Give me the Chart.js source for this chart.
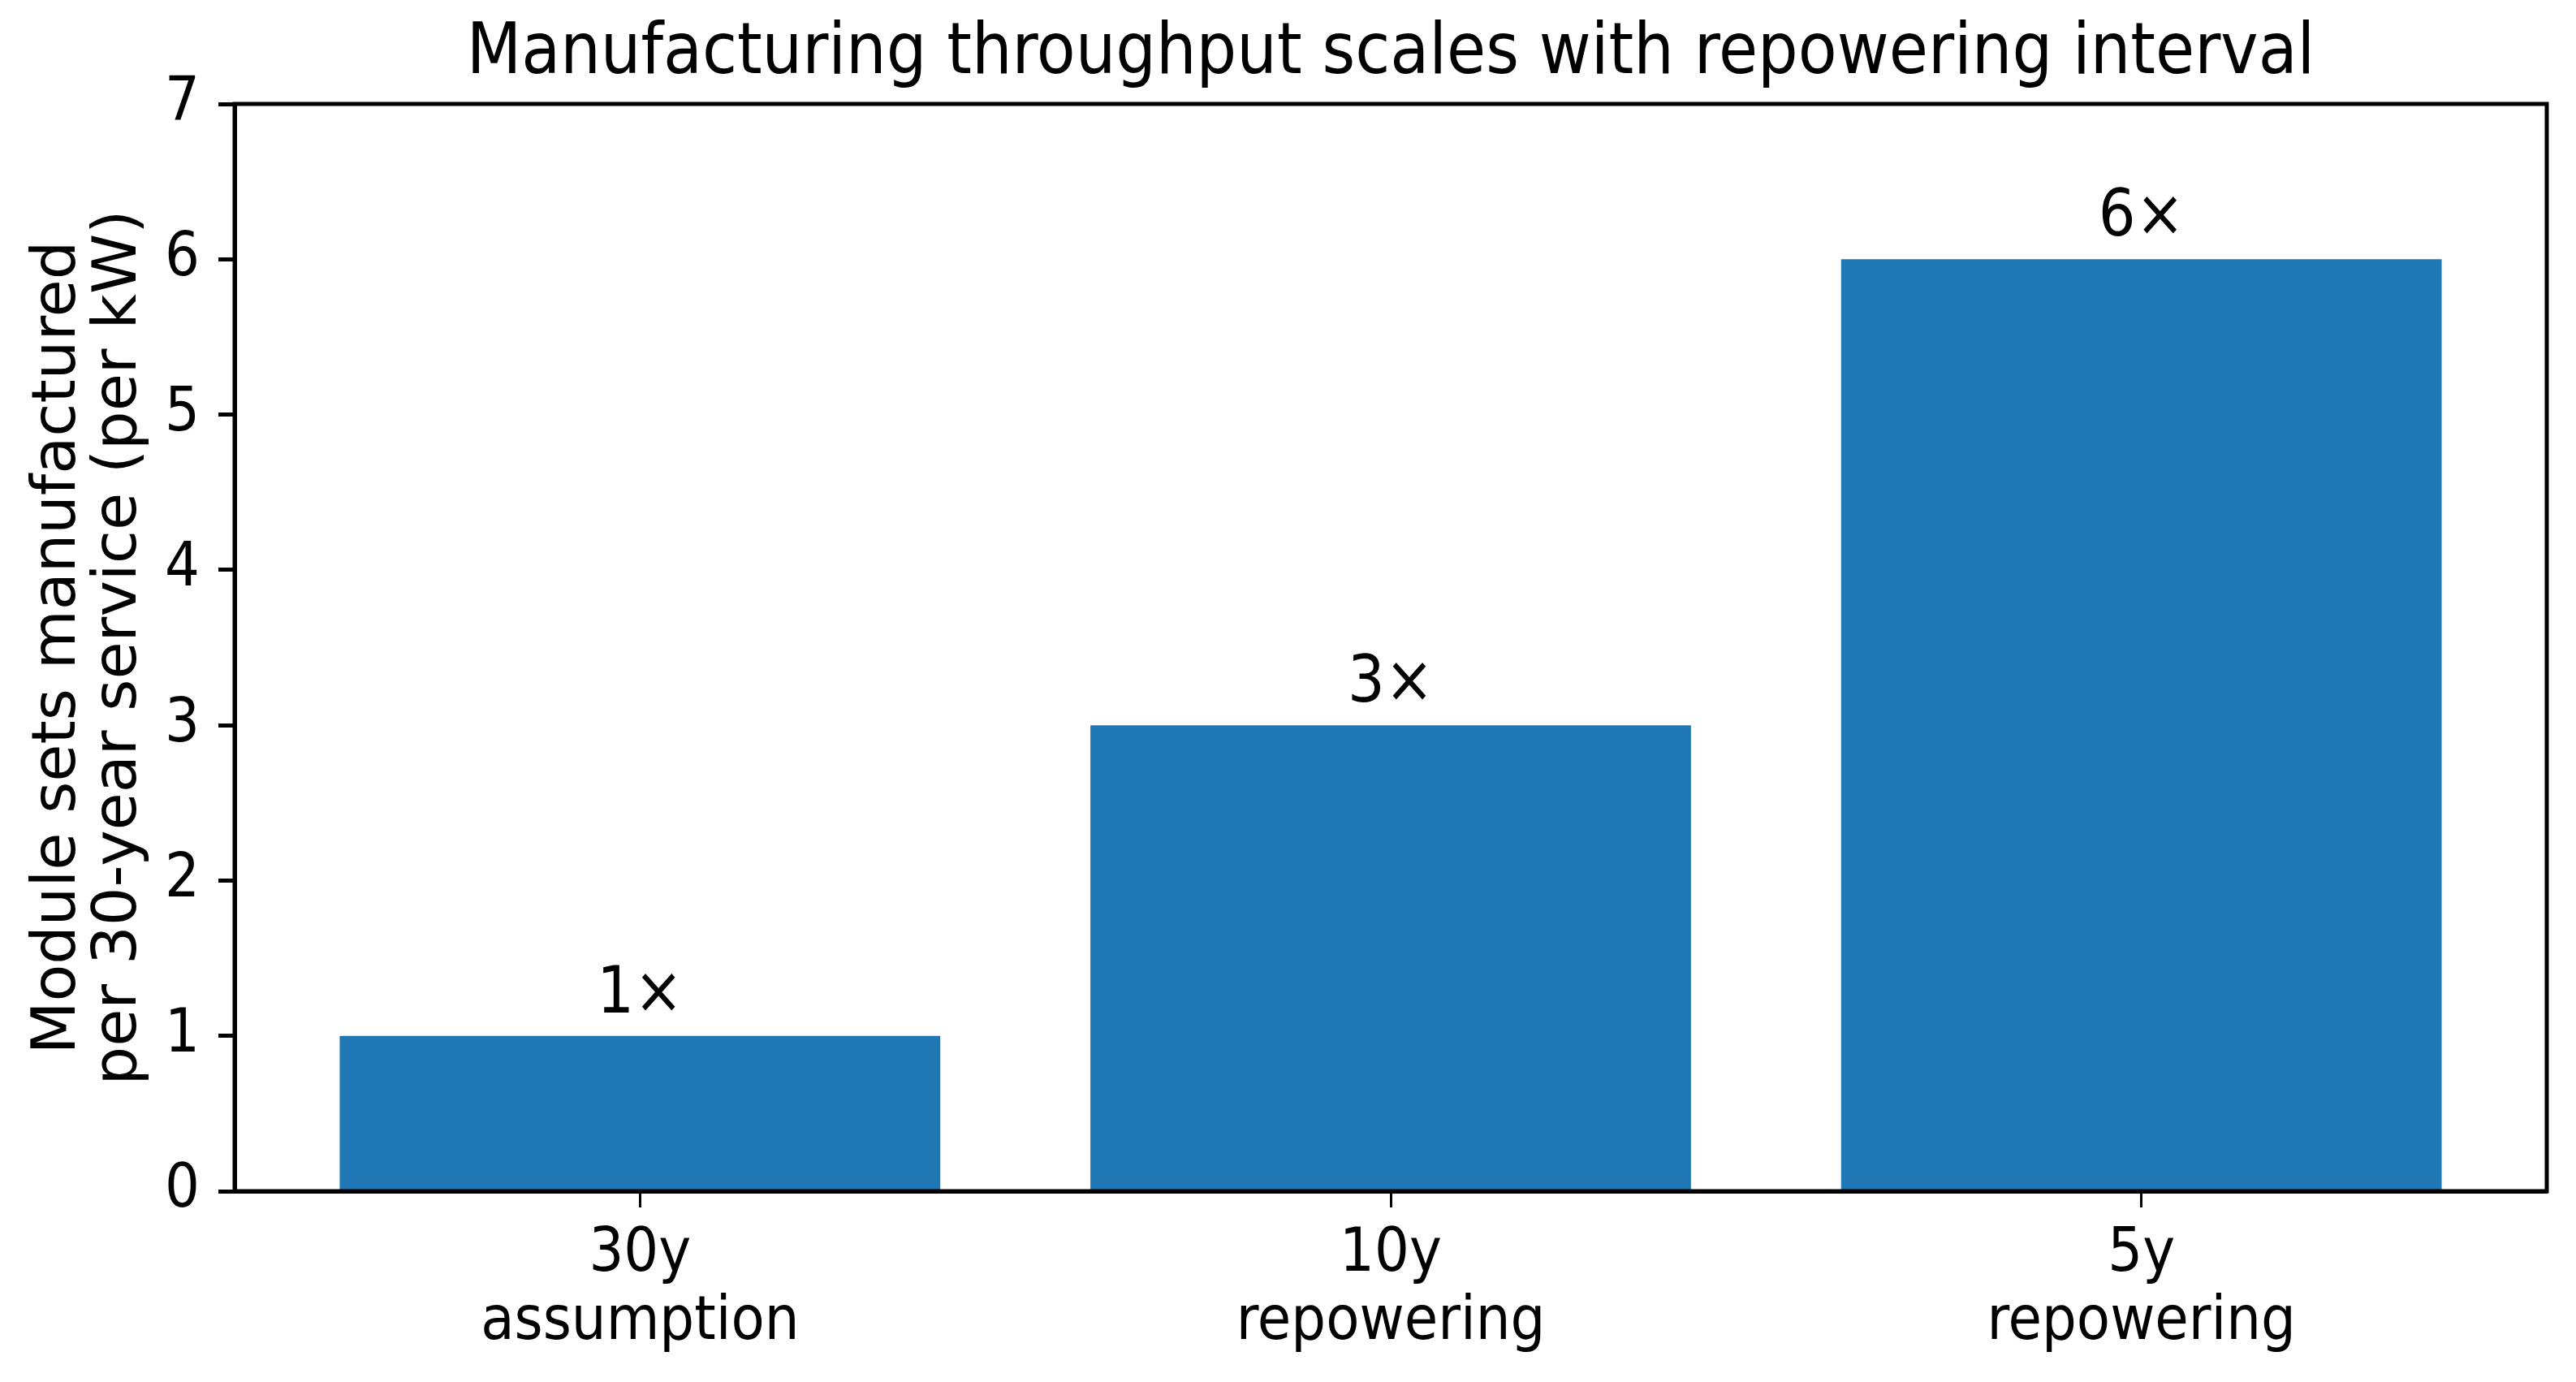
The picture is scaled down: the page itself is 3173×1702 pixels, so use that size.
<!DOCTYPE HTML>
<html>
<head>
	<meta charset="UTF-8">
	<title>Manufacturing throughput scales with repowering interval</title>
	<script src="https://cdn.jsdelivr.net/npm/chart.js"></script>
	<style>
		body {
			margin: 0;
			padding: 0;
			background: #fff;
		}
		canvas {
			display: block;
		}
	</style>
</head>
<body>
	<canvas id="throughputChart" width="3173" height="1702"></canvas>
	<script>
		// data
		var chartTitle = 'Manufacturing throughput scales with repowering interval';
		var categories = [['30y', 'assumption'], ['10y', 'repowering'], ['5y', 'repowering']];
		var moduleSets = [1, 3, 6];
		var barLabels = ['1×', '3×', '6×'];
		var yTicks = [0, 1, 2, 3, 4, 5, 6, 7];
		var yTitle = ['Module sets manufactured', 'per 30-year service (per kW)'];

		var fontFamily = '"DejaVu Sans Condensed", "DejaVu Sans"';
		Chart.defaults.font.family = fontFamily;
		Chart.defaults.color = '#000';

		// title centred over the axes, frame on all four sides, labels above the bars
		var extras = {
			id: 'extras',
			afterDatasetsDraw: function (chart) {
				var ctx = chart.ctx;
				var meta = chart.getDatasetMeta(0);
				ctx.save();
				ctx.fillStyle = '#000';
				ctx.font = '80px ' + fontFamily;
				ctx.textAlign = 'center';
				ctx.textBaseline = 'alphabetic';
				meta.data.forEach(function (bar, i) {
					ctx.fillText(barLabels[i], bar.x, bar.y - 29);
				});
				ctx.restore();
			},
			afterDraw: function (chart) {
				var ctx = chart.ctx;
				var a = chart.chartArea;
				ctx.save();
				ctx.strokeStyle = '#000';
				ctx.lineWidth = 5;
				ctx.strokeRect(a.left, a.top, a.right - a.left, a.bottom - a.top);
				ctx.fillStyle = '#000';
				ctx.font = '87px ' + fontFamily;
				ctx.textAlign = 'center';
				ctx.textBaseline = 'alphabetic';
				ctx.fillText(chartTitle, (a.left + a.right) / 2, 90);
				ctx.restore();
			}
		};

		new Chart(document.getElementById('throughputChart'), {
			type: 'bar',
			data: {
				datasets: [{
					data: moduleSets.map(function (v, i) { return { x: i, y: v }; }),
					backgroundColor: '#1f77b4',
					borderWidth: 0,
					categoryPercentage: 1,
					barPercentage: 0.8
				}]
			},
			options: {
				responsive: false,
				animation: false,
				layout: {
					padding: { top: 128, right: 36, bottom: 0, left: 0 }
				},
				plugins: {
					legend: { display: false },
					tooltip: { enabled: false }
				},
				scales: {
					x: {
						type: 'linear',
						min: -0.54,
						max: 2.54,
						offset: false,
						afterBuildTicks: function (axis) {
							axis.ticks = categories.map(function (c, i) { return { value: i }; });
						},
						afterFit: function (axis) {
							axis.height = 235;
						},
						ticks: {
							callback: function (value) { return categories[value]; },
							font: { size: 75, lineHeight: 1.12 },
							padding: 17,
							maxRotation: 0
						},
						grid: {
							offset: false,
							drawOnChartArea: false,
							tickLength: 20,
							tickWidth: 3,
							tickColor: '#000'
						},
						border: { color: '#000', width: 5 }
					},
					y: {
						min: 0,
						max: 7,
						afterBuildTicks: function (axis) {
							axis.ticks = yTicks.map(function (v) { return { value: v }; });
						},
						afterFit: function (axis) {
							axis.width = 289;
						},
						ticks: {
							font: { size: 75 },
							padding: 23
						},
						grid: {
							drawOnChartArea: false,
							tickLength: 20,
							tickWidth: 5,
							tickColor: '#000'
						},
						border: { color: '#000', width: 5 },
						title: {
							display: true,
							text: yTitle,
							font: { family: 'DejaVu Sans', size: 75, lineHeight: 1.0 },
							padding: { top: 35, bottom: 0 }
						}
					}
				}
			},
			plugins: [extras]
		});
	</script>
</body>
</html>
